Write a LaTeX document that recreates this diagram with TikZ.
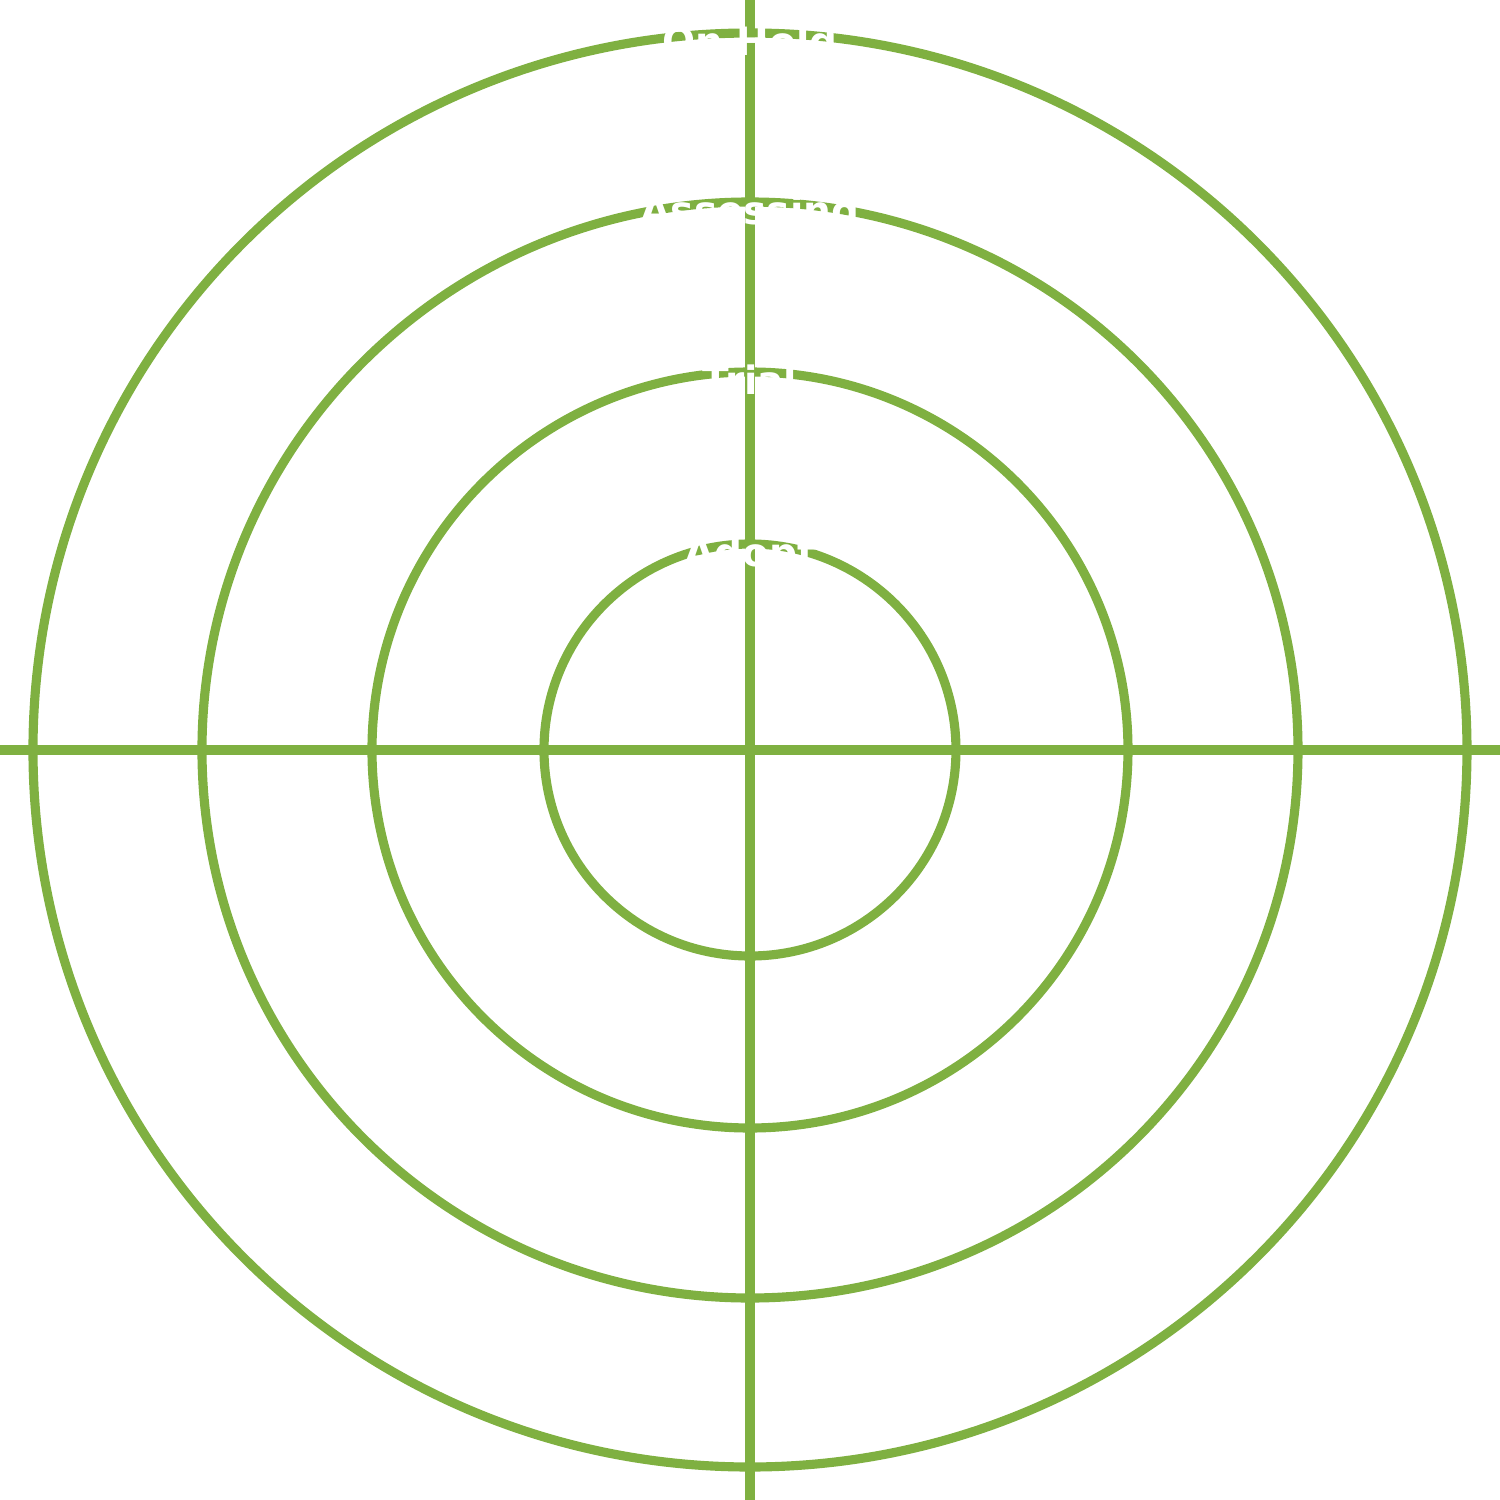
\documentclass[tikz,border=0pt]{standalone}
\usepackage{fontspec}
\setmainfont{DejaVu Sans}
\usepackage{xcolor}
\usepackage{tikz}
\usetikzlibrary{positioning,calc}

\definecolor{radargreen}{RGB}{127,176,65}

\begin{document}
\begin{tikzpicture}[
    ring/.style={draw=radargreen, line width=2.6pt, circle,
                 inner sep=0pt, minimum size=#1},
    axisline/.style={draw=radargreen, line width=2.6pt},
    ringlabel/.style={text=white, anchor=base, inner sep=0pt,
                      font=\bfseries\fontsize{11.1}{13}\selectfont},
  ]
    \useasboundingbox (-7.5,-7.5) rectangle (7.5,7.5);

    % ---- rings, inner to outer ----
    \coordinate (O) at (0,0);
    \node[ring=4.12cm]  (adopt) at (O) {};
    \node[ring=7.56cm]  (trial) at (O) {};
    \node[ring=10.96cm] (assess) at (O) {};
    \node[ring=14.34cm] (hold) at (O) {};

    % ---- axes ----
    \coordinate (W) at (-7.5,0); \coordinate (E) at (7.5,0);
    \coordinate (N) at (0,7.5);  \coordinate (S) at (0,-7.5);
    \draw[axisline] (W) -- (E);
    \draw[axisline] (N) -- (S);

    % ---- ring labels ----
    \node[ringlabel] (adoptlbl)  at ($(adopt.north)+(0,-0.27)$)  {Adopt};
    \node[ringlabel] (triallbl)  at ($(trial.north)+(0,-0.27)$)  {Trial};
    \node[ringlabel] (assesslbl) at ($(assess.north)+(0,-0.27)$) {Assessing};
    \node[ringlabel] (holdlbl)   at ($(hold.north)+(0,-0.27)$)   {On Hold};
  \end{tikzpicture}
\end{document}
